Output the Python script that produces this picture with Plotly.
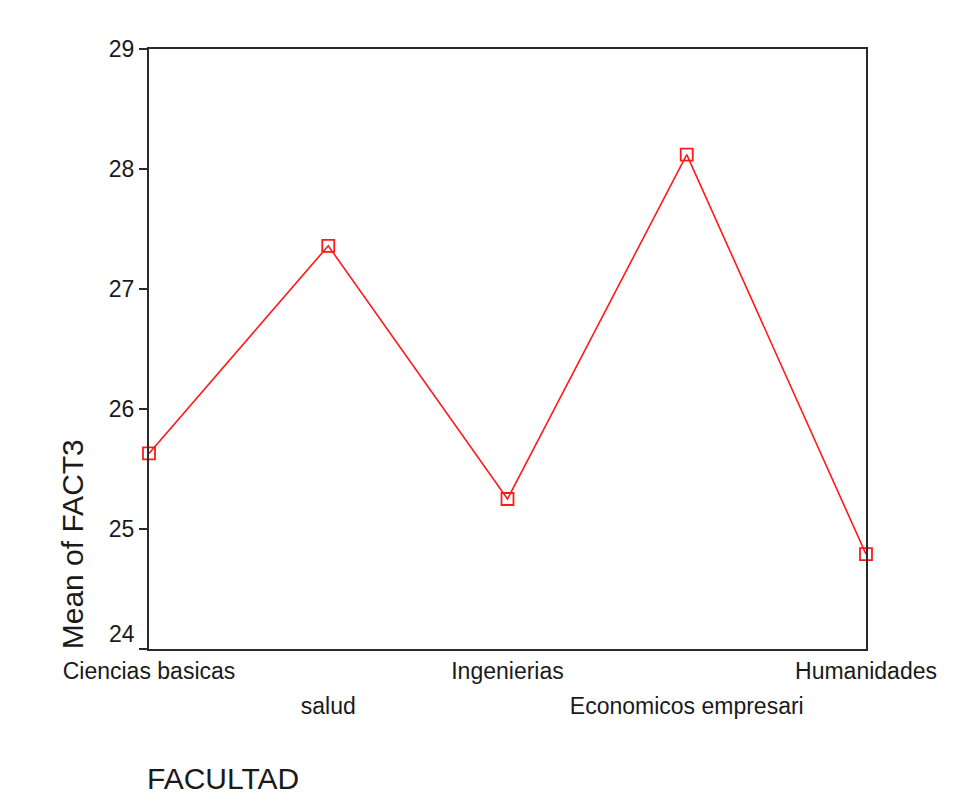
import plotly.graph_objects as go

categories = ["Ciencias basicas", "salud", "Ingenierias", "Economicos empresari", "Humanidades"]
means = [25.63, 27.36, 25.25, 28.12, 24.79]
y_ticks = [24, 25, 26, 27, 28, 29]

xs = list(range(len(categories)))
row1 = [i for i in xs if i % 2 == 0]
row2 = [i for i in xs if i % 2 == 1]

FONT = "Liberation Sans, Arial, sans-serif"

fig = go.Figure()
fig.add_trace(go.Scatter(
    x=xs, y=means, mode="lines+markers",
    line=dict(color="#ff1a1a", width=1.6),
    marker=dict(symbol="square-open", size=12, color="#ff1a1a", line=dict(width=1.8)),
    cliponaxis=False, showlegend=False,
))
# invisible trace for second tick row
fig.add_trace(go.Scatter(x=xs, y=means, xaxis="x2", mode="none", showlegend=False, hoverinfo="skip"))

# lowest tick label is lifted above the corner (as in the reference)
y_ticktext = ["" if v == y_ticks[0] else str(v) for v in y_ticks]

fig.update_layout(
    width=972, height=810,
    margin=dict(l=141, r=114, t=41, b=169),
    paper_bgcolor="white", plot_bgcolor="white",
    font=dict(family=FONT, color="#1a1a1a"),
    xaxis=dict(
        range=[0, len(categories) - 1], tickmode="array",
        tickvals=row1, ticktext=[categories[i] for i in row1],
        ticks="", showgrid=False, zeroline=False,
        showline=True, linecolor="#2a2a2a", linewidth=2, mirror=True,
        tickfont=dict(size=23, family=FONT, color="#1a1a1a"),
        ticklabelstandoff=0,
    ),
    xaxis2=dict(
        overlaying="x", side="bottom", anchor="y",
        range=[0, len(categories) - 1], tickmode="array",
        tickvals=row2, ticktext=[categories[i] for i in row2],
        ticks="", showgrid=False, zeroline=False, showline=False,
        tickfont=dict(size=23, family=FONT, color="#1a1a1a"),
        ticklabelstandoff=41,
    ),
    yaxis=dict(
        range=[24, 29], tickmode="array", tickvals=y_ticks,
        ticktext=y_ticktext,
        ticks="outside", ticklen=8, tickwidth=2, tickcolor="#2a2a2a",
        showgrid=False, zeroline=False,
        showline=True, linecolor="#2a2a2a", linewidth=2, mirror=True,
        tickfont=dict(size=23, family=FONT, color="#1a1a1a"),
    ),
    annotations=[
        dict(text=str(y_ticks[0]), xref="paper", yref="y", x=-0.0165, y=y_ticks[0],
             xanchor="right", yanchor="middle", yshift=15, showarrow=False,
             font=dict(size=23, family=FONT, color="#1a1a1a")),
        dict(text="Mean of FACT3", textangle=-90, xref="paper", yref="paper",
             x=-0.107, y=0.175, xanchor="center", yanchor="middle", showarrow=False,
             font=dict(size=30, family=FONT, color="#1a1a1a")),
        dict(text="FACULTAD", xref="paper", yref="paper",
             x=-0.005, y=-0.215, xanchor="left", yanchor="middle", showarrow=False,
             font=dict(size=30, family=FONT, color="#1a1a1a")),
    ],
)

fig.write_html("out.html")
